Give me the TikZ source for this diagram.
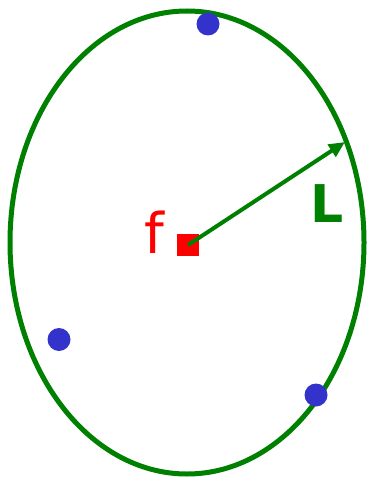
\documentclass[tikz,border=0pt]{standalone}
\usepackage{fontspec}
\setmainfont{DejaVu Sans}
\usetikzlibrary{arrows.meta}
\definecolor{ringgreen}{HTML}{008000}
\definecolor{dotblue}{HTML}{3333CC}
\definecolor{focred}{HTML}{FF0000}
\tikzset{
  dot/.style={circle,fill=dotblue,draw=none,minimum size=23pt,inner sep=0pt},
  focus/.style={rectangle,fill=focred,draw=none,minimum size=22pt,inner sep=0pt},
  radius arrow/.style={ringgreen,line width=4pt,-{Triangle[length=16pt,width=14pt]}},
}
\begin{document}
\begin{tikzpicture}[x=1pt,y=-1pt]
\useasboundingbox (0,0) rectangle (369,481);
\draw[ringgreen,line width=5pt] (187,242.5) ellipse [x radius=177, y radius=231.5];
\node[focus] (f) at (188,245) {};
\coordinate (tip) at (345,142);
\draw[radius arrow] (f.center) -- (tip);
\node[focred,font=\fontsize{56}{60}\selectfont,anchor=base] (flabel) at (154.5,253) {f};
\node[ringgreen,font=\fontsize{52}{56}\selectfont\bfseries,anchor=base] (Llabel) at (327.5,222) {L};
\node[dot] (d1) at (208,24) {};
\node[dot] (d2) at (59,339.5) {};
\node[dot] (d3) at (316,395) {};
\end{tikzpicture}
\end{document}
